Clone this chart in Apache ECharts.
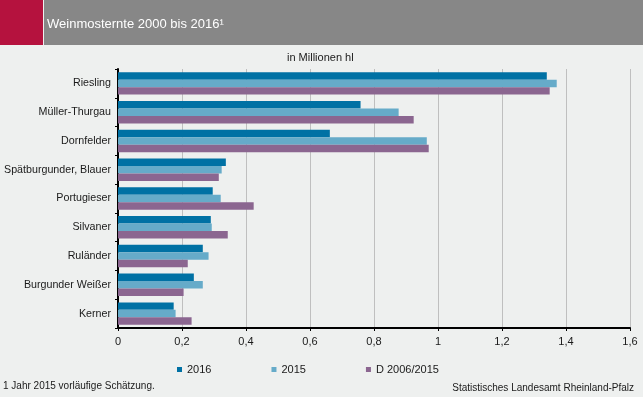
<!DOCTYPE html>
<html>
<head>
<meta charset="utf-8">
<script src="https://cdn.jsdelivr.net/npm/echarts@6/dist/echarts.min.js"></script>
<style>
  html, body { margin: 0; padding: 0; background: #eef0ef; }
  #chart { width: 643px; height: 397px; }
</style>
</head>
<body>
<div id="chart"></div>
<script>
// Rebsorten (von oben nach unten)
var sorten = ['Riesling', 'Müller-Thurgau', 'Dornfelder', 'Spätburgunder, Blauer', 'Portugieser',
    'Silvaner', 'Ruländer', 'Burgunder Weißer', 'Kerner'];
var werte2016 = [1.34, 0.758, 0.662, 0.337, 0.296, 0.290, 0.265, 0.237, 0.174];
var werte2015 = [1.371, 0.877, 0.965, 0.324, 0.321, 0.293, 0.283, 0.265, 0.180];
var werteD = [1.349, 0.924, 0.971, 0.315, 0.424, 0.343, 0.218, 0.205, 0.230];
var serienNamen = ['2016', '2015', 'D 2006/2015'];
var xTicks = [0, 0.2, 0.4, 0.6, 0.8, 1, 1.2, 1.4, 1.6];

var farben = ['#0071a4', '#66abc9', '#8b6690'];
var schrift = 'Liberation Sans, Arial, sans-serif';

var myChart = echarts.init(document.getElementById('chart'));
var option;

option = {
    backgroundColor: '#eef0ef',
    animation: false,
    textStyle: { fontFamily: schrift },
    graphic: [
        { type: 'rect', shape: { x: 0, y: 0, width: 43, height: 45 }, style: { fill: '#b5123e' } },
        { type: 'rect', shape: { x: 44, y: 0, width: 599, height: 45 }, style: { fill: '#878787' } },
        {
            type: 'text', left: 47, top: 18,
            style: { text: 'Weinmosternte 2000 bis 2016¹', fill: '#ffffff', font: '13px ' + schrift }
        },
        {
            type: 'text', left: 287, top: 52,
            style: { text: 'in Millionen hl', fill: '#1a1a1a', font: '11px ' + schrift }
        },
        {
            type: 'text', left: 3, top: 381,
            style: { text: '1 Jahr 2015 vorläufige Schätzung.', fill: '#1a1a1a', font: '10px ' + schrift }
        },
        {
            type: 'text', right: 9, top: 383,
            style: { text: 'Statistisches Landesamt Rheinland-Pfalz', fill: '#1a1a1a', font: '10px ' + schrift }
        }
    ],
    legend: {
        data: serienNamen,
        left: 172,
        top: 359,
        itemWidth: 5,
        itemHeight: 5,
        itemGap: 60,
        icon: 'rect',
        textStyle: { fontSize: 11, color: '#1a1a1a', fontFamily: schrift }
    },
    grid: {
        left: 118,
        right: 13,
        top: 69,
        bottom: 69,
        outerBoundsMode: 'none'
    },
    xAxis: {
        type: 'value',
        min: 0,
        max: 1.6,
        interval: 0.2,
        axisLine: { show: true, lineStyle: { color: '#000', width: 2 } },
        axisTick: { show: true, length: 3, lineStyle: { color: '#000' } },
        axisLabel: {
            fontSize: 11,
            color: '#1a1a1a',
            margin: 8,
            formatter: function (v) {
                var t = xTicks.find(function (x) { return Math.abs(x - v) < 1e-6; });
                return String(t !== undefined ? t : v).replace('.', ',');
            }
        },
        splitLine: { show: true, lineStyle: { color: '#bfbfbf', width: 1 } }
    },
    yAxis: {
        type: 'category',
        data: sorten,
        inverse: true,
        axisLine: { show: true, lineStyle: { color: '#000', width: 2 } },
        axisTick: { show: true, length: 3, lineStyle: { color: '#000' } },
        axisLabel: { fontSize: 10.7, color: '#1a1a1a', margin: 7 }
    },
    series: [
        { name: serienNamen[0], type: 'bar', data: werte2016, barGap: '0%', barCategoryGap: '22%', itemStyle: { color: farben[0] } },
        { name: serienNamen[1], type: 'bar', data: werte2015, barGap: '0%', barCategoryGap: '22%', itemStyle: { color: farben[1] } },
        { name: serienNamen[2], type: 'bar', data: werteD, barGap: '0%', barCategoryGap: '22%', itemStyle: { color: farben[2] } }
    ]
};

option && myChart.setOption(option);
</script>
</body>
</html>
